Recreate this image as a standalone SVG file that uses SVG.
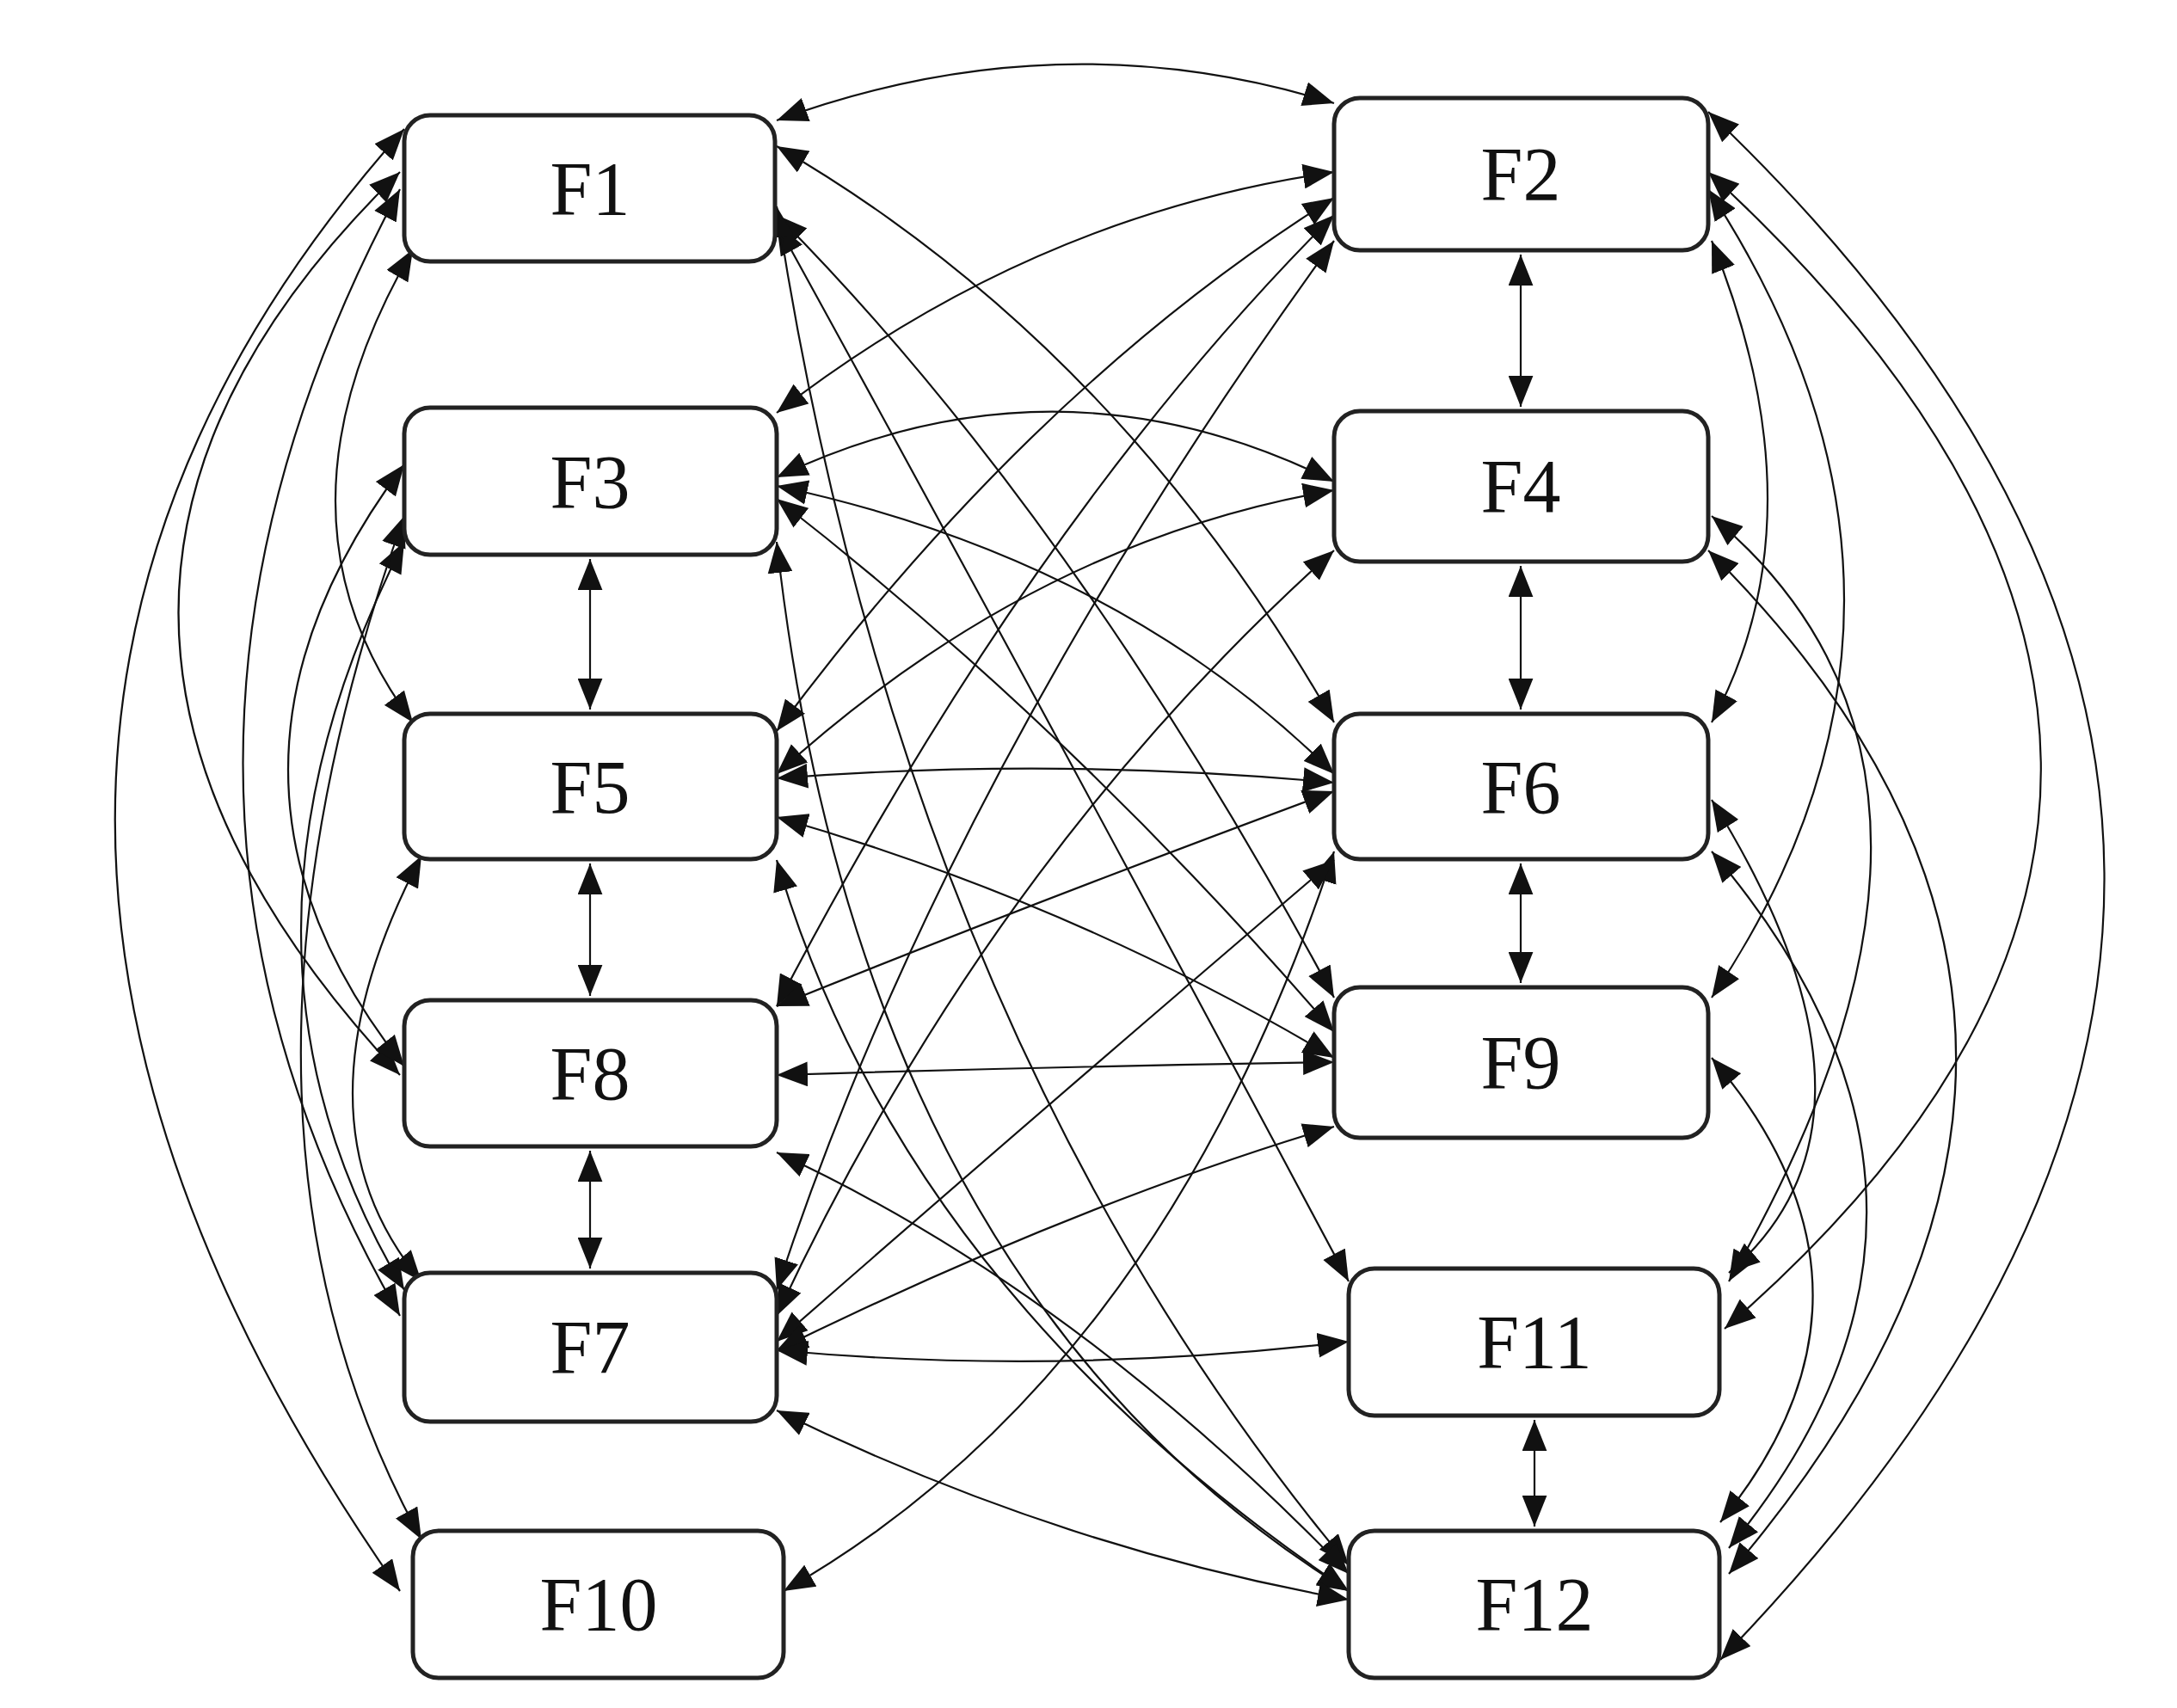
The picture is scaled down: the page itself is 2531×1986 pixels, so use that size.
<svg xmlns="http://www.w3.org/2000/svg" width="2531" height="1986" viewBox="0 0 2531 1986">
<defs>
<style>
.n rect{fill:#fff;stroke:#222;stroke-width:5}
.n text{font-family:"Liberation Serif",serif;font-size:88px;fill:#111;text-anchor:middle;dominant-baseline:central}
#edges path{fill:none;stroke:#111;stroke-width:2.2;marker-start:url(#a);marker-end:url(#a)}
</style>
<marker id="a" viewBox="0 0 10 8" refX="10" refY="4" markerWidth="36" markerHeight="29" markerUnits="userSpaceOnUse" orient="auto-start-reverse"><path d="M0 0L10 4L0 8z" fill="#111"/></marker>
</defs>
<rect width="2531" height="1986" fill="#fff"/>
<g id="edges">
<path d="M686 650L686 825"/><path d="M686 1004L686 1158"/><path d="M686 1338L686 1475"/>
<path d="M1768 296L1768 473"/><path d="M1768 658L1768 825"/><path d="M1768 1004L1768 1143"/><path d="M1784 1651L1784 1775"/>
<path d="M470 150Q-200 900 465 1850"/><path d="M465 200Q-50 700 465 1250"/><path d="M465 220Q100 900 465 1530"/>
<path d="M480 290Q300 600 480 840"/><path d="M470 540Q200 900 470 1240"/><path d="M470 630Q230 1100 470 1500"/>
<path d="M470 600Q220 1300 490 1790"/><path d="M490 995Q330 1300 490 1490"/>
<path d="M1986 130Q2900 1000 2000 1930"/><path d="M1986 200Q2750 900 2005 1545"/><path d="M1990 280Q2120 600 1990 840"/>
<path d="M1986 220Q2300 700 1990 1160"/><path d="M1990 600Q2350 900 2010 1490"/><path d="M1986 640Q2550 1200 2010 1830"/>
<path d="M1990 930Q2220 1300 2010 1480"/><path d="M1990 990Q2340 1400 2010 1800"/><path d="M1990 1230Q2220 1500 2000 1770"/>
<path d="M903 140Q1230 20 1551 120"/>
<path d="M903 170Q1300 400 1551 840"/><path d="M903 250Q1250 600 1551 1160"/><path d="M903 260Q1200 800 1568 1490"/>
<path d="M903 240Q1050 1200 1568 1820"/><path d="M1551 200Q1200 250 903 480"/><path d="M1551 230Q1200 450 903 850"/>
<path d="M1551 250Q1200 600 903 1170"/><path d="M1551 280Q1100 900 903 1500"/><path d="M903 555Q1230 400 1551 560"/>
<path d="M903 565Q1300 650 1551 900"/><path d="M903 580Q1250 850 1551 1200"/><path d="M903 630Q1000 1500 1568 1850"/>
<path d="M1551 570Q1200 630 903 900"/><path d="M1551 640Q1150 1000 903 1530"/><path d="M1551 990Q1350 1600 911 1850"/>
<path d="M903 905Q1230 880 1551 910"/><path d="M903 950Q1250 1050 1551 1230"/><path d="M903 1000Q1050 1500 1568 1850"/>
<path d="M1551 920Q1200 1050 903 1170"/><path d="M1551 1000Q1200 1300 903 1560"/><path d="M903 1250Q1230 1240 1551 1235"/>
<path d="M1551 1310Q1250 1400 903 1570"/><path d="M903 1570Q1230 1600 1568 1560"/><path d="M903 1640Q1230 1800 1568 1860"/>
<path d="M903 1340Q1250 1500 1568 1830"/>
</g>
<g id="F1" class="n"><rect x="470" y="134" width="431" height="170" rx="30"/><text x="686" y="219">F1</text></g>
<g id="F3" class="n"><rect x="470" y="474" width="433" height="171" rx="30"/><text x="686" y="560">F3</text></g>
<g id="F5" class="n"><rect x="470" y="830" width="433" height="169" rx="30"/><text x="686" y="915">F5</text></g>
<g id="F8" class="n"><rect x="470" y="1163" width="433" height="170" rx="30"/><text x="686" y="1248">F8</text></g>
<g id="F7" class="n"><rect x="470" y="1480" width="433" height="173" rx="30"/><text x="686" y="1566">F7</text></g>
<g id="F10" class="n"><rect x="480" y="1780" width="431" height="171" rx="30"/><text x="696" y="1865">F10</text></g>
<g id="F2" class="n"><rect x="1551" y="114" width="435" height="177" rx="30"/><text x="1768" y="202">F2</text></g>
<g id="F4" class="n"><rect x="1551" y="478" width="435" height="175" rx="30"/><text x="1768" y="565">F4</text></g>
<g id="F6" class="n"><rect x="1551" y="830" width="435" height="169" rx="30"/><text x="1768" y="915">F6</text></g>
<g id="F9" class="n"><rect x="1551" y="1148" width="435" height="175" rx="30"/><text x="1768" y="1235">F9</text></g>
<g id="F11" class="n"><rect x="1568" y="1475" width="431" height="171" rx="30"/><text x="1784" y="1560">F11</text></g>
<g id="F12" class="n"><rect x="1568" y="1780" width="431" height="171" rx="30"/><text x="1784" y="1865">F12</text></g>
</svg>
